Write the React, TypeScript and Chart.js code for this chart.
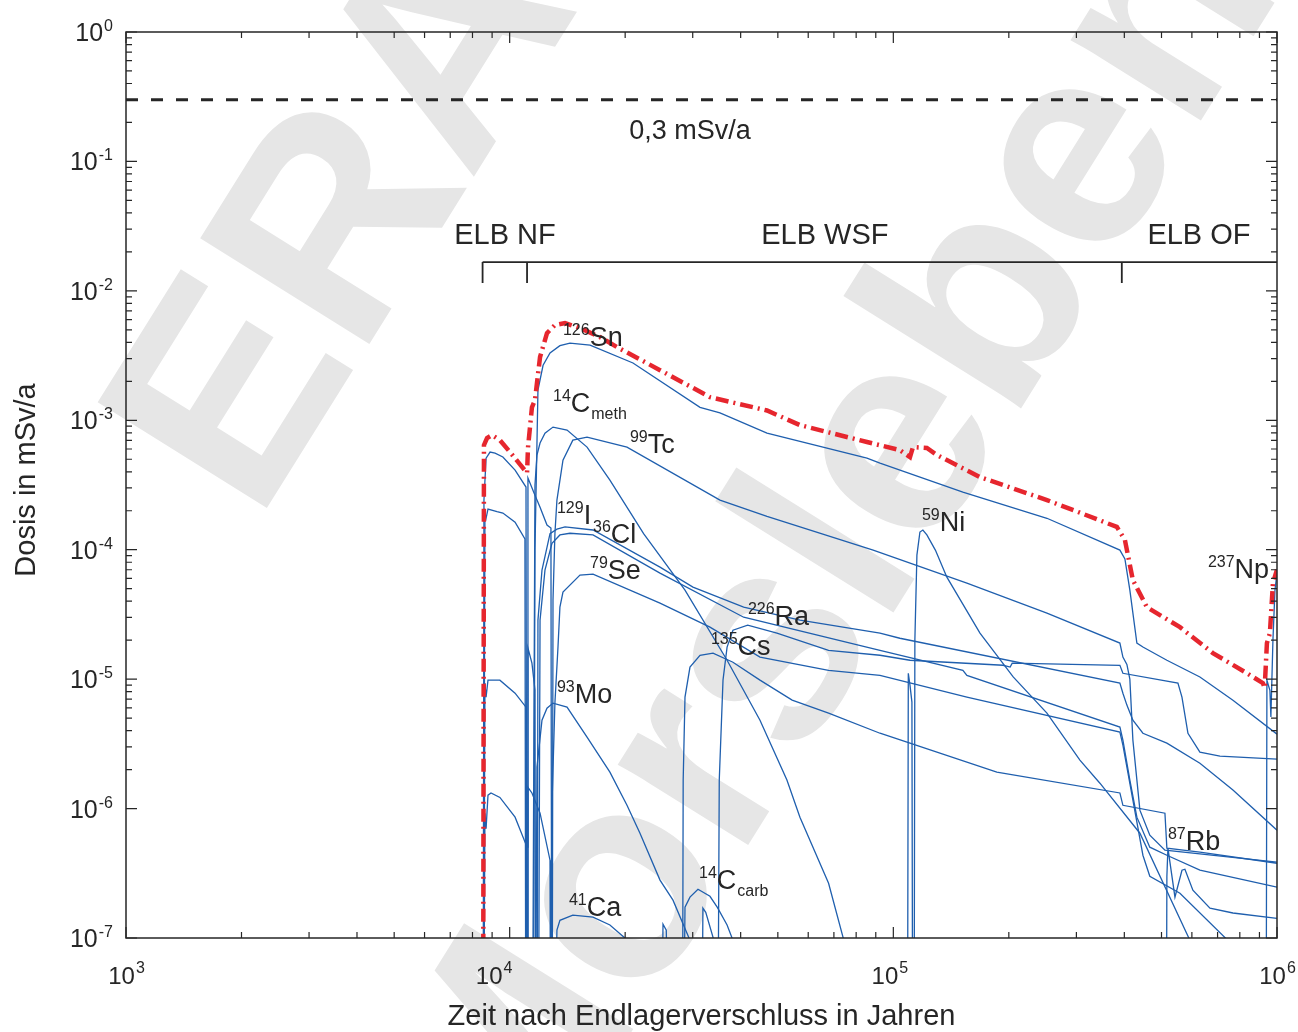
import React, { useEffect, useRef } from "react";
import { Chart, registerables } from "chart.js";

Chart.register(...registerables);

type Pt = [number, number];

const FONT = '"Liberation Sans", Arial, Helvetica, sans-serif';

// ---------- axis / reference data ----------
const xDecades = [1e3, 1e4, 1e5, 1e6];
const xExponents = ["3", "4", "5", "6"];
const xLabelNudge = [0, -16, -4, 0];
const yDecades = [1, 1e-1, 1e-2, 1e-3, 1e-4, 1e-5, 1e-6, 1e-7];
const yExponents = ["0", "-1", "-2", "-3", "-4", "-5", "-6", "-7"];

const doseLimit = 0.3;
const doseLimitText = "0,3 mSv/a";
const phaseNames = ["ELB NF", "ELB WSF", "ELB OF"];
const phaseStarts = [8.5e3, 1.11e4, 3.94e5];
const phaseLabelX = [9.72e3, 6.63e4, 6.26e5];
const bracketTop = 0.0167;
const bracketBottom = 0.0115;

// ---------- series (years, dose in mSv/a); 1e-9 = below the axis ----------
const total: Pt[] = [[8520,1e-9],[8570,6.43e-4],[8730,7.29e-4],[8990,7.68e-4],[9430,7.03e-4],[10020,5.68e-4],[10640,4.56e-4],[11100,3.91e-4],[11160,6.1e-4],[11430,1.26e-3],[11640,1.43e-3],[11780,1.94e-3],[12000,3.08e-3],[12510,4.72e-3],[13120,5.44e-3],[13940,5.64e-3],[15250,5.16e-3],[17190,4.40e-3],[19040,3.68e-3],[24650,2.44e-3],[33270,1.51e-3],[46850,1.19e-3],[57090,9.18e-4],[85360,6.79e-4],[104000,5.88e-4],[110500,5.20e-4],[112500,6.21e-4],[122300,6.11e-4],[129900,5.39e-4],[168200,3.64e-4],[251400,2.42e-4],[382500,1.50e-4],[401400,1.19e-4],[421100,5.82e-5],[458000,3.60e-5],[558500,2.52e-5],[680700,1.59e-5],[835100,1.11e-5],[919100,9.31e-6],[928700,8.52e-6],[941300,1.90e-5],[958300,2.27e-5],[975900,5.52e-5],[1e6,7.0e-5]];

const early1: Pt[] = [[8520,1e-9],[8570,2.42e-4],[8680,5.10e-4],[8890,5.68e-4],[9160,5.58e-4],[9600,5.20e-4],[10330,4.12e-4],[11030,3.05e-4],[11100,1e-9],[11160,3.58e-4],[11640,2.64e-4],[12000,2.13e-4],[12510,1.55e-4],[12810,1.47e-4],[12890,1e-9]];
const early2: Pt[] = [[8520,1e-9],[8620,1.92e-4],[8680,1.75e-4],[8780,2.06e-4],[9270,1.97e-4],[9600,1.92e-4],[10330,1.63e-4],[10960,1.21e-4],[11030,1e-9]];
const early3: Pt[] = [[8520,1e-9],[8620,9.31e-6],[8680,7.26e-6],[8780,9.82e-6],[9430,9.82e-6],[10330,7.79e-6],[11030,6.08e-6],[11100,1e-9],[11160,1.74e-5],[11430,1.33e-5],[11640,8.22e-6],[11710,1e-9]];
const early4: Pt[] = [[8520,1e-9],[8620,9.21e-7],[8680,7.0e-7],[8780,1.27e-6],[8940,1.32e-6],[9430,1.22e-6],[10330,8.58e-7],[11100,5.03e-7],[11160,1.46e-6],[11430,1.32e-6],[12000,9.21e-7],[12740,3.99e-7],[12810,1e-9]];

const sn126: Pt[] = [[11500,1e-9],[11640,1.0e-4],[11850,1.71e-3],[12220,2.66e-3],[12740,3.31e-3],[13520,3.77e-3],[14360,3.95e-3],[16200,3.81e-3],[20960,2.77e-3],[31340,1.26e-3],[35330,1.14e-3],[46850,7.96e-4],[85360,5.10e-4],[92300,4.67e-4],[151800,2.79e-4],[251400,1.75e-4],[389500,9.93e-5],[401400,8.5e-5],[413500,4.87e-5],[431300,1.90e-5],[447200,1.77e-5],[516400,1.40e-5],[629600,1.04e-5],[767600,6.88e-6],[1e6,3.76e-6]];
const c14meth: Pt[] = [[11430,1e-9],[11640,3.16e-4],[11780,5.38e-4],[12000,6.67e-4],[12360,7.96e-4],[12970,8.86e-4],[14110,8.40e-4],[15910,6.21e-4],[18250,3.45e-4],[22340,1.33e-4],[28640,4.87e-5],[36870,1.40e-5],[44920,4.82e-6],[52800,1.66e-6],[57090,8.58e-7],[67800,2.65e-7],[74300,9.6e-8]];
const tc99: Pt[] = [[12890,1e-9],[12970,4.08e-5],[13120,1.33e-4],[13280,2.42e-4],[13770,4.92e-4],[14610,7.03e-4],[15910,7.42e-4],[20220,6.21e-4],[35330,2.42e-4],[46850,1.81e-4],[88600,9.93e-5],[155500,5.52e-5],[251400,3.24e-5],[389500,1.90e-5],[396600,1.48e-5],[406200,1.30e-5],[413500,1.0e-5],[421100,3.38e-6],[439200,9.72e-7],[466100,6.23e-7],[510400,4.77e-7],[1e6,3.85e-7]];
const i129: Pt[] = [[11780,1e-9],[11850,2.86e-5],[12140,6.96e-5],[12740,1.33e-4],[13280,1.44e-4],[13940,1.50e-4],[16490,1.42e-4],[24650,7.34e-5],[30040,5.14e-5],[40730,3.60e-5],[57090,2.86e-5],[92300,2.27e-5],[104000,2.07e-5],[389500,9.31e-6],[396600,7.79e-6],[406200,6.30e-6],[421100,4.82e-6],[447200,3.82e-6],[516400,3.20e-6],[629600,2.24e-6],[767600,1.39e-6],[1e6,6.81e-7]];
const cl36: Pt[] = [[11850,1e-9],[12000,2.86e-5],[12360,6.96e-5],[12890,1.12e-4],[13520,1.30e-4],[14360,1.34e-4],[16490,1.30e-4],[24650,6.59e-5],[40730,3.01e-5],[92300,1.67e-5],[151800,1.17e-5],[155500,1.07e-5],[389500,4.26e-6],[396600,3.38e-6],[413500,1.66e-6],[431300,8.58e-7],[466100,5.03e-7],[516400,4.36e-7],[629600,3.34e-7],[1e6,2.47e-7]];
const se79: Pt[] = [[12740,1e-9],[12890,1.06e-6],[13120,6.53e-6],[13360,1.74e-5],[13520,3.60e-5],[13770,4.70e-5],[15250,6.36e-5],[16490,6.48e-5],[24650,3.87e-5],[33270,2.52e-5],[44920,1.48e-5],[67800,1.17e-5],[92300,1.07e-5],[155500,7.26e-6],[389500,3.90e-6],[396600,3.09e-6],[421100,1.16e-6],[447200,4.36e-7],[466100,3.0e-7],[558500,2.22e-7],[744000,9.6e-8]];
const ra226: Pt[] = [[34750,1e-9],[35180,1.66e-6],[35980,9.82e-6],[36870,1.77e-5],[38190,2.39e-5],[41720,2.61e-5],[49730,2.27e-5],[67800,1.67e-5],[92300,1.53e-5],[110500,1.40e-5],[193200,1.28e-5],[201600,1.24e-5],[204100,1.33e-5],[389500,1.28e-5],[396600,1.11e-5],[551800,9.31e-6],[565300,7.26e-6],[586000,3.82e-6],[629600,2.73e-6],[710000,2.54e-6],[1e6,2.41e-6]];
const cs135: Pt[] = [[28160,1e-9],[28330,1.66e-6],[28640,7.26e-6],[29510,1.24e-5],[31340,1.53e-5],[33890,1.59e-5],[38190,1.35e-5],[44920,9.82e-6],[54480,6.88e-6],[67800,5.46e-6],[92300,3.82e-6],[110500,3.20e-6],[186100,1.91e-6],[389500,1.32e-6],[396600,1.06e-6],[510400,9.21e-7],[516400,4.94e-7],[629600,4.60e-7],[1e6,3.78e-7]];
const mo93: Pt[] = [[11640,1e-9],[11780,2.09e-6],[12140,4.82e-6],[12510,5.97e-6],[12970,6.53e-6],[14110,6.08e-6],[15910,3.56e-6],[18250,1.91e-6],[20220,1.06e-6],[21860,6.45e-7],[24650,2.80e-7],[26650,1.96e-7],[29510,9.6e-8]];
const ni59: Pt[] = [[113100,1e-9],[113800,2.0e-5],[115200,9.08e-5],[117300,1.37e-4],[119400,1.42e-4],[122300,1.30e-4],[128700,9.93e-5],[137900,6.14e-5],[168200,2.27e-5],[205300,1.04e-5],[251400,5.46e-6],[306400,2.37e-6],[345500,1.57e-6],[439200,6.45e-7],[592900,9.6e-8]];
const ni59spike: Pt[] = [[108700,1e-9],[109400,1.11e-5],[110500,8.99e-6],[111800,6.64e-6],[112500,1e-9]];
const ca41: Pt[] = [[12890,1e-9],[13280,1.15e-7],[13520,1.37e-7],[14610,1.50e-7],[16490,1.45e-7],[18250,1.26e-7],[20290,9.6e-8]];
const c14carbA: Pt[] = [[24650,1e-9],[25100,1.28e-7],[25600,1.15e-7],[26170,1e-9]];
const c14carb: Pt[] = [[28160,1e-9],[28640,1.73e-7],[29510,2.07e-7],[30960,2.38e-7],[33270,2.10e-7],[34750,1.73e-7],[36870,1.26e-7],[38190,9.6e-8]];
const c14carbB: Pt[] = [[31520,1e-9],[31890,1.70e-7],[32440,1.58e-7],[33890,1.01e-7],[34200,1e-9]];
const rb87: Pt[] = [[513400,1e-9],[516400,3.0e-7],[519600,4.94e-7],[542000,2.07e-7],[565300,3.34e-7],[575400,3.40e-7],[603600,2.34e-7],[668800,1.70e-7],[767600,1.56e-7],[1e6,1.42e-7]];
const np237: Pt[] = [[935300,1e-9],[941300,9.8e-6],[958300,8.2e-6],[964000,5.1e-6],[975900,2.0e-5],[987900,4.87e-5],[1e6,6.6e-5]];

const blueSeries: Pt[][] = [early1, early2, early3, early4, sn126, c14meth, tc99, i129, cl36, se79, ra226, cs135, mo93, ni59, ni59spike, ca41, c14carbA, c14carb, c14carbB, rb87, np237];

// ---------- labels ----------
type Lab = { sup: string; main: string; sub?: string; x: number; y: number };
const nuclideLabels: Lab[] = [
  { sup: "126", main: "Sn", x: 1.377e4, y: 3.74e-3 },
  { sup: "14", main: "C", sub: "meth", x: 1.297e4, y: 1.157e-3 },
  { sup: "99", main: "Tc", x: 2.058e4, y: 5.58e-4 },
  { sup: "129", main: "I", x: 1.328e4, y: 1.577e-4 },
  { sup: "36", main: "Cl", x: 1.649e4, y: 1.125e-4 },
  { sup: "79", main: "Se", x: 1.62e4, y: 5.93e-5 },
  { sup: "226", main: "Ra", x: 4.178e4, y: 2.61e-5 },
  { sup: "135", main: "Cs", x: 3.346e4, y: 1.53e-5 },
  { sup: "59", main: "Ni", x: 1.187e5, y: 1.39e-4 },
  { sup: "93", main: "Mo", x: 1.328e4, y: 6.53e-6 },
  { sup: "41", main: "Ca", x: 1.427e4, y: 1.47e-7 },
  { sup: "14", main: "C", sub: "carb", x: 3.115e4, y: 2.38e-7 },
  { sup: "87", main: "Rb", x: 5.196e5, y: 4.77e-7 },
  { sup: "237", main: "Np", x: 6.606e5, y: 6.03e-5 },
];
const xTitle = "Zeit nach Endlagerverschluss in Jahren";
const yTitle = "Dosis in mSv/a";
const watermark = ["ERAM", "Morsleben"];

const BLUE = "#1f5fae";
const RED = "#e6262e";
const INK = "#262626";

const decorPlugin = {
  id: "decor",
  beforeDatasetsDraw(chart: any) {
    const ctx = chart.ctx as CanvasRenderingContext2D;
    const ang = (-58 * Math.PI) / 180;
    ctx.save();
    ctx.font = `bold 290px ${FONT}`;
    ctx.fillStyle = "#e6e6e6";
    ctx.textAlign = "center";
    ctx.textBaseline = "middle";
    ctx.save();
    ctx.translate(415, 120);
    ctx.rotate(ang);
    ctx.fillText(watermark[0], 0, 0);
    ctx.restore();
    ctx.save();
    ctx.translate(832, 560);
    ctx.rotate(ang);
    ctx.fillText(watermark[1], 0, 0);
    ctx.restore();
    ctx.restore();
  },
  afterDatasetsDraw(chart: any) {
    const ctx = chart.ctx as CanvasRenderingContext2D;
    const a = chart.chartArea;
    const xs = chart.scales.x;
    const ys = chart.scales.y;
    ctx.save();
    // frame
    ctx.strokeStyle = INK;
    ctx.lineWidth = 1.5;
    ctx.strokeRect(a.left, a.top, a.right - a.left, a.bottom - a.top);
    // ticks
    const major = 11, minor = 6;
    ctx.lineWidth = 1.2;
    ctx.beginPath();
    for (let d = 0; d < xDecades.length; d++) {
      for (let m = 1; m <= 9; m++) {
        const v = xDecades[d] * m;
        if (v > xDecades[xDecades.length - 1] + 1) break;
        const px = xs.getPixelForValue(v);
        const len = m === 1 ? major : minor;
        ctx.moveTo(px, a.bottom); ctx.lineTo(px, a.bottom - len);
        ctx.moveTo(px, a.top); ctx.lineTo(px, a.top + len);
      }
    }
    for (let d = 0; d < yDecades.length; d++) {
      for (let m = 1; m <= 9; m++) {
        const v = yDecades[d] * m;
        if (v > 1.0001) break;
        if (d === yDecades.length - 1 && m > 1) break;
        const py = ys.getPixelForValue(v);
        const len = m === 1 ? major : minor;
        ctx.moveTo(a.left, py); ctx.lineTo(a.left + len, py);
        ctx.moveTo(a.right, py); ctx.lineTo(a.right - len, py);
      }
    }
    ctx.stroke();

    ctx.fillStyle = INK;
    ctx.textBaseline = "alphabetic";
    ctx.textAlign = "left";
    const pow = (base: string, exp: string, x: number, y: number, align: string, bs: number, es: number, raise: number) => {
      ctx.font = `${bs}px ${FONT}`;
      const bw = ctx.measureText(base).width;
      ctx.font = `${es}px ${FONT}`;
      const ew = ctx.measureText(exp).width;
      const x0 = align === "center" ? x - (bw + ew) / 2 : x - (bw + ew);
      ctx.font = `${bs}px ${FONT}`;
      ctx.fillText(base, x0, y);
      ctx.font = `${es}px ${FONT}`;
      ctx.fillText(exp, x0 + bw + 1, y - raise);
    };
    xDecades.forEach((v, i) => pow("10", xExponents[i], xs.getPixelForValue(v) + xLabelNudge[i], a.bottom + 46, "center", 24, 16, 11));
    yDecades.forEach((v, i) => pow("10", yExponents[i], a.left - 14, ys.getPixelForValue(v) + 9, "right", 25, 16, 10));

    // nuclide labels
    nuclideLabels.forEach((l) => {
      let x = xs.getPixelForValue(l.x);
      const y = ys.getPixelForValue(l.y);
      ctx.font = `16px ${FONT}`;
      ctx.fillText(l.sup, x, y - 11);
      x += ctx.measureText(l.sup).width;
      ctx.font = `27px ${FONT}`;
      ctx.fillText(l.main, x, y);
      x += ctx.measureText(l.main).width;
      if (l.sub) {
        ctx.font = `16px ${FONT}`;
        ctx.fillText(l.sub, x + 1, y + 7);
      }
    });

    ctx.textAlign = "center";
    ctx.font = `27px ${FONT}`;
    ctx.fillText(doseLimitText, xs.getPixelForValue(2.951e4), ys.getPixelForValue(0.149));
    ctx.font = `29px ${FONT}`;
    phaseNames.forEach((n, i) => ctx.fillText(n, xs.getPixelForValue(phaseLabelX[i]), ys.getPixelForValue(0.023)));

    // axis titles
    ctx.font = `29px ${FONT}`;
    ctx.textBaseline = "middle";
    ctx.fillText(xTitle, (a.left + a.right) / 2, a.bottom + 79);
    ctx.save();
    ctx.translate(a.left - 99, (a.top + a.bottom) / 2 - 5);
    ctx.rotate(-Math.PI / 2);
    ctx.fillText(yTitle, 0, 0);
    ctx.restore();
    ctx.restore();
  },
};

const toXY = (pts: Pt[]) => pts.map(([x, y]) => ({ x, y }));

export default function App() {
  const ref = useRef<HTMLCanvasElement>(null);
  useEffect(() => {
    if (!ref.current) return;
    const datasets: any[] = [];
    datasets.push({ data: toXY(total), borderColor: RED, borderWidth: 4.5, borderDash: [13, 5, 2, 5], order: 0 });
    datasets.push({ data: toXY([[xDecades[0], doseLimit], [xDecades[3], doseLimit]]), borderColor: INK, borderWidth: 3, borderDash: [12, 13], order: 1 });
    datasets.push({ data: toXY([[phaseStarts[0], bracketTop], [xDecades[3], bracketTop]]), borderColor: INK, borderWidth: 1.8, order: 1 });
    phaseStarts.forEach((p) =>
      datasets.push({ data: toXY([[p, bracketTop], [p, bracketBottom]]), borderColor: INK, borderWidth: 1.8, order: 1 })
    );
    blueSeries.forEach((s) => datasets.push({ data: toXY(s), borderColor: BLUE, borderWidth: 1.3, order: 2 }));
    datasets.forEach((d) => { d.pointRadius = 0; d.fill = false; d.tension = 0; d.borderCapStyle = "butt"; });

    const chart = new Chart(ref.current, {
      type: "line",
      data: { datasets },
      options: {
        animation: false,
        responsive: true,
        maintainAspectRatio: false,
        events: [],
        layout: { padding: { left: 126, top: 32, right: 21, bottom: 94 } },
        plugins: { legend: { display: false }, tooltip: { enabled: false } },
        scales: {
          x: { type: "logarithmic", min: 1e3, max: 1e6, display: false },
          y: { type: "logarithmic", min: 1e-7, max: 1, display: false },
        },
      },
      plugins: [decorPlugin],
    });
    return () => chart.destroy();
  }, []);
  return (
    <div style={{ position: "fixed", left: 0, top: 0, width: 1298, height: 1032, background: "#fff" }}>
      <canvas ref={ref} />
    </div>
  );
}
